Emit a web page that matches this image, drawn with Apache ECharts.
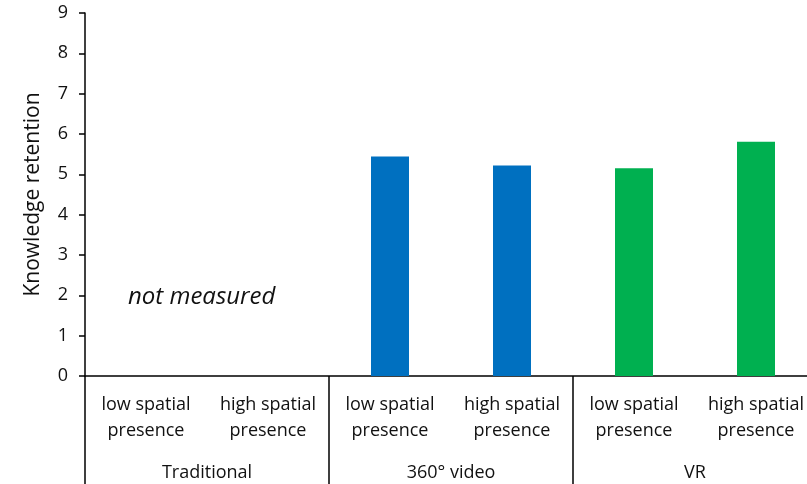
<!DOCTYPE html>
<html>
<head>
<meta charset="utf-8">
<script src="https://cdn.jsdelivr.net/npm/echarts@6/dist/echarts.min.js"></script>
<style>
  html, body { margin: 0; padding: 0; background: #fff; overflow: hidden; }
  #chart { width: 817px; height: 484px; }
</style>
</head>
<body>
<div id="chart"></div>
<script>
// Sub-condition labels (bottom row) and group labels (second row)
const conditions = [
  'low spatial\npresence', 'high spatial\npresence',
  'low spatial\npresence', 'high spatial\npresence',
  'low spatial\npresence', 'high spatial\npresence'
];
const groups = ['Traditional', '360° video', 'VR'];
// Knowledge retention per condition (Traditional not measured)
const retention = [null, null, 5.44, 5.22, 5.15, 5.81];
const groupColors = ['#0070C0', '#0070C0', '#0070C0', '#0070C0', '#00B050', '#00B050'];
const yTicks = [0, 1, 2, 3, 4, 5, 6, 7, 8, 9];

const FONT = '"Open Sans", Lato, sans-serif';
const TXT = '#111';

// The plot runs slightly past the right edge of the 807px window
const chart = echarts.init(document.getElementById('chart'));
chart.setOption({
  animation: false,
  grid: { left: 85, right: 0, top: 13, bottom: 108, containLabel: false },
  xAxis: [
    {
      type: 'category',
      data: conditions,
      position: 'bottom',
      axisLine: { show: true, lineStyle: { color: '#000', width: 1.5 } },
      axisTick: { show: false },
      axisLabel: {
        margin: 16, fontFamily: FONT, fontSize: 18, color: TXT,
        lineHeight: 26, interval: 0
      },
      splitLine: { show: false }
    },
    {
      type: 'category',
      data: groups,
      position: 'bottom',
      axisLine: { show: false },
      axisTick: { show: true, length: 110, alignWithLabel: false, lineStyle: { color: '#000', width: 1.5 } },
      axisLabel: { margin: 88, fontFamily: FONT, fontSize: 18, color: TXT, interval: 0 },
      splitLine: { show: false }
    }
  ],
  yAxis: {
    type: 'value',
    min: yTicks[0],
    max: yTicks[yTicks.length - 1],
    interval: 1,
    name: 'Knowledge retention',
    nameLocation: 'middle',
    nameGap: 41,
    nameRotate: 90,
    nameTextStyle: { fontFamily: FONT, fontSize: 21, color: TXT },
    axisLine: { show: true, lineStyle: { color: '#000', width: 1.5 } },
    axisTick: { show: true, length: 6, lineStyle: { color: '#000', width: 1.5 } },
    axisLabel: { margin: 17, fontFamily: FONT, fontSize: 18, color: TXT },
    splitLine: { show: false }
  },
  series: [
    {
      type: 'bar',
      xAxisIndex: 0,
      barWidth: 38,
      data: retention.map((v, i) => ({ value: v, itemStyle: { color: groupColors[i] } }))
    }
  ],
  graphic: [
    {
      type: 'text',
      left: 128,
      top: 285,
      style: {
        text: 'not measured',
        font: 'italic 24px ' + FONT,
        fill: TXT
      }
    }
  ]
});
</script>
</body>
</html>
